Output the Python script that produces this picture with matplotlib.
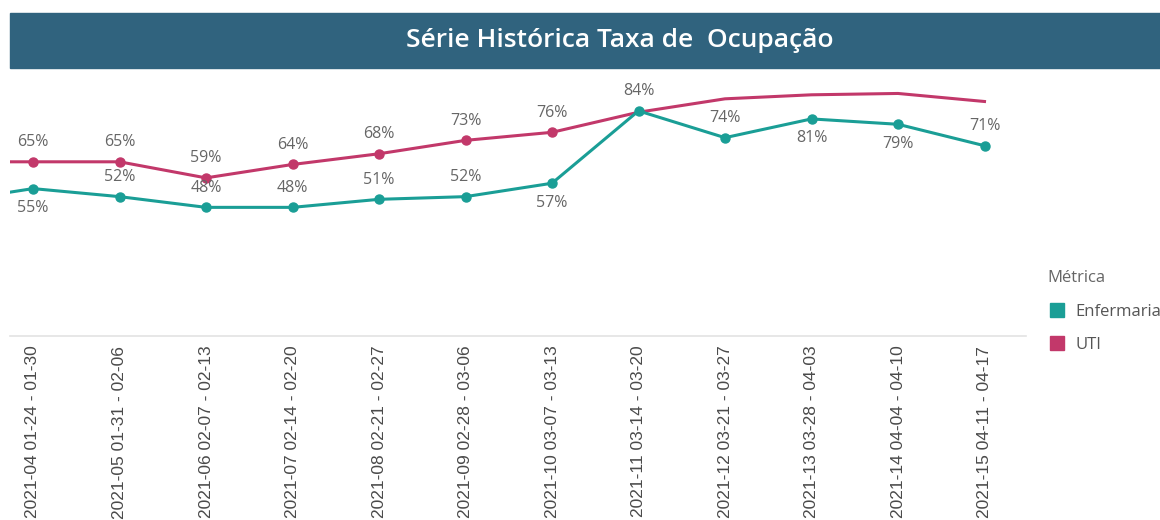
import matplotlib
matplotlib.use("Agg")
import matplotlib.pyplot as plt
from matplotlib.lines import Line2D
from matplotlib.patches import Rectangle

categories = [
    "2021-03 01-17 - 01-23",
    "2021-04 01-24 - 01-30", "2021-05 01-31 - 02-06", "2021-06 02-07 - 02-13",
    "2021-07 02-14 - 02-20", "2021-08 02-21 - 02-27", "2021-09 02-28 - 03-06",
    "2021-10 03-07 - 03-13", "2021-11 03-14 - 03-20", "2021-12 03-21 - 03-27",
    "2021-13 03-28 - 04-03", "2021-14 04-04 - 04-10", "2021-15 04-11 - 04-17",
]
enfermaria = [50, 55, 52, 48, 48, 51, 52, 57, 84, 74, 81, 79, 71]
uti = [65, 65, 65, 59, 64, 68, 73, 76, 83.5, 88.5, 90, 90.5, 87.5]
# label placement: 1 above, -1 below, 0 none
enf_pos = [0, -1, 1, 1, 1, 1, 1, -1, 1, 1, -1, -1, 1]
uti_pos = [0, 1, 1, 1, 1, 1, 1, 1, 0, 0, 0, 0, 0]
uti_marker = [True] * 8 + [False] * 5

TEAL = "#1A9E96"
MAGENTA = "#C2386A"
TXT = "#666666"

W, H = 1160, 520
fig = plt.figure(figsize=(W / 100, H / 100), dpi=100)

# title banner
fig.patches.append(Rectangle((10 / W, 1 - 68 / H), (W - 10) / W, 55 / H,
                             transform=fig.transFigure, color="#30637E", zorder=0))
fig.text(620 / W, 1 - 41 / H, "Série Histórica Taxa de  Ocupação", color="white",
         fontsize=19, fontfamily="Open Sans", fontweight="semibold",
         ha="center", va="center")

x0, x1 = 10, 1026
ybot, ytop = 336, 75
ax = fig.add_axes([x0 / W, 1 - ybot / H, (x1 - x0) / W, (ybot - ytop) / H])
ax.patch.set_alpha(0)

xs = list(range(-1, len(categories) - 1))
ax.plot(xs, uti, color=MAGENTA, lw=2.2, zorder=2, clip_on=True)
ax.plot([x for x, m in zip(xs, uti_marker) if m], [v for v, m in zip(uti, uti_marker) if m],
        ls="none", marker="o", ms=6.5, color=MAGENTA, zorder=3)
ax.plot(xs, enfermaria, color=TEAL, lw=2.2, zorder=4, marker="o", ms=6.5)

for x, v, p in zip(xs, uti, uti_pos):
    if p:
        ax.annotate(f"{v:.0f}%", (x, v), xytext=(0, 14 * p), textcoords="offset points",
                    ha="center", va="center", fontsize=11.5, color=TXT, fontfamily="Open Sans")
for x, v, p in zip(xs, enfermaria, enf_pos):
    if p:
        ax.annotate(f"{v:.0f}%", (x, v), xytext=(0, 14 * p), textcoords="offset points",
                    ha="center", va="center", fontsize=11.5, color=TXT, fontfamily="Open Sans")

step = 86.5
ax.set_xlim(-(33 - x0) / step, (x1 - 33) / step)
ax.set_ylim(0, (ybot - ytop) / 2.68)
ax.set_xticks(xs[1:])
ax.set_xticklabels(categories[1:], rotation=90, fontsize=12.5, color="#4a4a4a",
                   fontfamily="Liberation Sans", va="top")
ax.tick_params(axis="x", length=0, pad=7)
ax.set_yticks([])
for s in ["top", "right", "left"]:
    ax.spines[s].set_visible(False)
ax.spines["bottom"].set_color("#E3E3E3")
ax.spines["bottom"].set_linewidth(1.2)

handles = [Line2D([], [], ls="none", marker="s", ms=9.5, color=TEAL),
           Line2D([], [], ls="none", marker="s", ms=9.5, color=MAGENTA)]
leg = fig.legend(handles, ["Enfermaria", "UTI"], title="Métrica",
                 loc="upper left", bbox_to_anchor=(1047 / W, 1 - 270 / H),
                 frameon=False,
                 prop={"family": "Open Sans", "size": 12}, title_fontsize=12,
                 handletextpad=0.5, labelspacing=1.05, handlelength=1.2,
                 borderpad=0, borderaxespad=0)
leg.get_title().set_color(TXT)
leg.get_title().set_fontfamily("Open Sans")
leg._legend_box.align = "left"
for t in leg.get_texts():
    t.set_color("#555555")

fig.savefig("out.png", dpi=100)
